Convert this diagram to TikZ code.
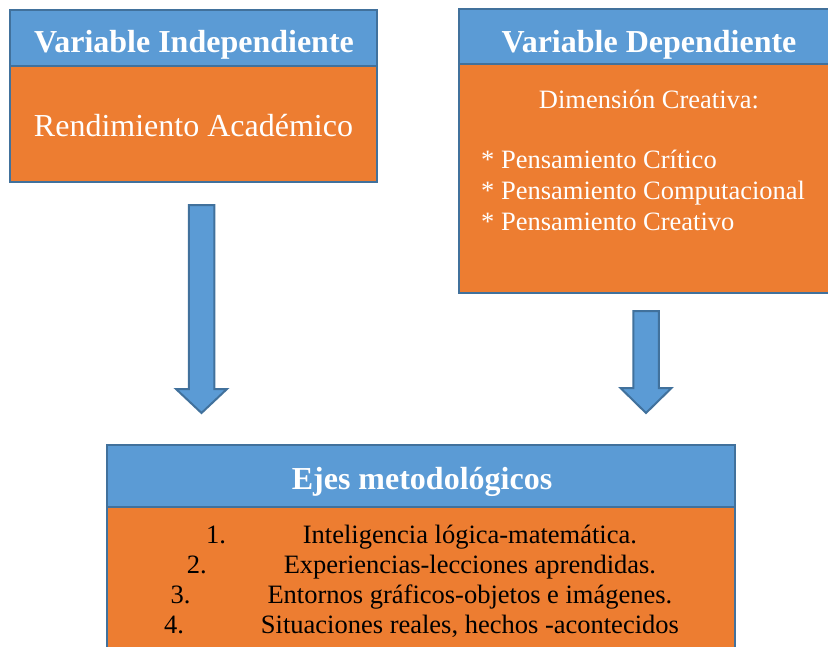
\documentclass[tikz,border=0pt]{standalone}
\usepackage{fontspec}
\setmainfont{Liberation Serif}
\usetikzlibrary{positioning}

\definecolor{hdrblue}{HTML}{5B9BD5}
\definecolor{bodyorange}{HTML}{ED7D31}
\definecolor{edgeblue}{HTML}{41719C}

\begin{document}
\begin{tikzpicture}[x=1pt, y=-1pt]
    \tikzstyle{head}=[draw=edgeblue, fill=hdrblue, line width=2.5pt, inner sep=0pt, outer sep=0pt]
    \tikzstyle{body}=[draw=edgeblue, fill=bodyorange, line width=2.5pt, inner sep=0pt, outer sep=0pt]
    \tikzstyle{title}=[text=white, inner sep=0pt, anchor=base, font=\fontsize{32}{36}\selectfont\bfseries]
    \tikzstyle{bigtext}=[text=white, inner sep=0pt, anchor=base, font=\fontsize{32}{36}\selectfont]
    \tikzstyle{smalltext}=[inner sep=0pt, font=\fontsize{26.5}{31}\selectfont]
    \tikzstyle{blockarrow}=[draw=edgeblue, fill=hdrblue, line width=2pt, line join=miter]

    \path[use as bounding box, clip] (0,0) rectangle (828,646);

    \node[head, minimum width=367, minimum height=56] (indephead) at (193.5, 38) {};
    \node[body, minimum width=367, minimum height=116, below=0pt of indephead] (indepbody) {};
    \node[title] (indeptitle) at (194, 52) {Variable Independiente};
    \node[bigtext] (rendimiento) at (193.5, 136) {Rendimiento Académico};

    \node[head, minimum width=380, minimum height=55] (dephead) at (649, 36.5) {};
    \node[body, minimum width=380, minimum height=229, below=0pt of dephead] (depbody) {};
    \node[title] (deptitle) at (649, 52) {Variable Dependiente};
    \node[smalltext, text=white, anchor=base] (dimension) at (649, 108) {Dimensión Creativa:};
    \foreach \i/\txt/\y in {1/Crítico/168, 2/Computacional/199, 3/Creativo/230}
        \node[smalltext, text=white, anchor=base west] (pens\i) at (481, \y) {* Pensamiento \txt};

    \node[head, minimum width=628, minimum height=62] (ejeshead) at (421, 476) {};
    \node[body, minimum width=628, minimum height=160, below=0pt of ejeshead] (ejesbody) {};
    \node[title] (ejestitle) at (422, 489) {Ejes metodológicos};
    \foreach \i/\txt/\y in {1/{Inteligencia lógica-matemática.}/543,
                            2/{Experiencias-lecciones aprendidas.}/573,
                            3/{Entornos gráficos-objetos e imágenes.}/603,
                            4/{Situaciones reales, hechos -acontecidos}/633}
        \node[smalltext, anchor=base] (eje\i) at (421.5, \y) {\i.\hspace{77pt}\txt};

    \foreach \cx/\ytop/\yhead in {201.5/205/389, 646/311/388}
        \draw[blockarrow] (\cx-12.75, \ytop) -- (\cx+12.75, \ytop) -- (\cx+12.75, \yhead)
            -- (\cx+25.5, \yhead) -- (\cx, 413) -- (\cx-25.5, \yhead) -- (\cx-12.75, \yhead) -- cycle;
\end{tikzpicture}
\end{document}
